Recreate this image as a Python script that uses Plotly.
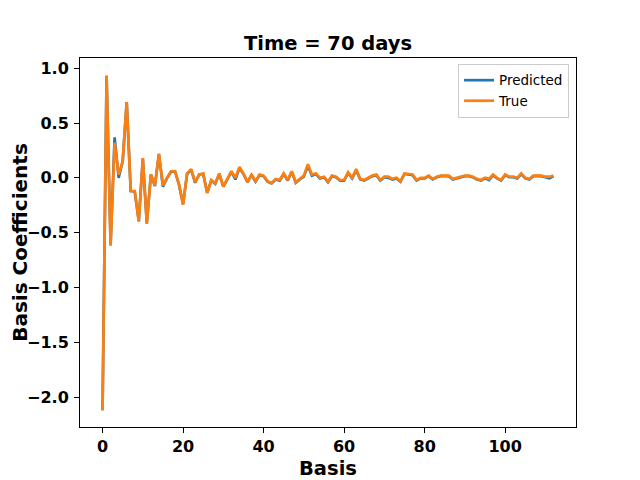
import plotly.graph_objects as go

# basis coefficients (time = 70 days)
true_vals = [-2.12, 0.93, -0.62, 0.32, 0.03, 0.15, 0.69, -0.12, -0.12, -0.40,
             0.18, -0.42, 0.03, -0.07, 0.22, -0.07, 0.0, 0.06, 0.06, -0.06,
             -0.245, 0.04, 0.08, -0.04, 0.03, 0.04, -0.14, -0.02, -0.05, 0.04,
             -0.08, -0.01, 0.06, 0.0, 0.10, 0.04, -0.04, 0.03, -0.03, 0.03,
             0.02, -0.03, -0.05, -0.01, -0.02, 0.04, -0.02, 0.06, -0.04, -0.01,
             0.02, 0.125, 0.03, 0.04, 0.0, 0.01, -0.035, 0.02, 0.01, -0.02,
             -0.02, 0.05, 0.0, 0.08, -0.01, -0.02, 0.0, 0.02, 0.03, -0.02,
             0.01, 0.01, -0.01, 0.0, -0.03, 0.04, 0.035, 0.03, -0.02, 0.0,
             0.0, 0.02, -0.01, 0.01, 0.02, 0.02, 0.02, -0.01, 0.0, 0.01,
             0.02, 0.02, 0.01, -0.01, -0.02, 0.0, -0.01, 0.03, 0.0, -0.02,
             0.03, 0.01, 0.01, 0.0, 0.04, 0.0, -0.01, 0.02, 0.02, 0.02,
             0.01, 0.01, 0.02]

pred_vals = [-2.12, 0.93, -0.61, 0.37, 0.0, 0.15, 0.69, -0.12, -0.125, -0.395,
             0.175, -0.415, 0.03, -0.075, 0.215, -0.08, -0.005, 0.055, 0.06, -0.065,
             -0.24, 0.035, 0.075, -0.045, 0.03, 0.035, -0.135, -0.025, -0.055, 0.035,
             -0.08, -0.015, 0.055, -0.015, 0.09, 0.035, -0.04, 0.025, -0.035, 0.025,
             0.015, -0.035, -0.05, -0.015, -0.025, 0.035, -0.025, 0.055, -0.045, -0.015,
             0.01, 0.11, 0.02, 0.035, -0.005, 0.005, -0.04, 0.015, 0.005, -0.025,
             -0.025, 0.045, -0.005, 0.07, -0.015, -0.025, -0.005, 0.015, 0.025, -0.025,
             0.005, 0.0, -0.015, -0.005, -0.035, 0.035, 0.03, 0.025, -0.025, -0.005,
             -0.005, 0.015, -0.015, 0.005, 0.015, 0.015, 0.015, -0.015, -0.005, 0.005,
             0.015, 0.015, 0.005, -0.015, -0.025, -0.005, -0.02, 0.025, -0.005, -0.025,
             0.025, 0.005, 0.005, -0.005, 0.035, -0.005, -0.015, 0.015, 0.015, 0.015,
             0.005, -0.005, 0.015]

basis = list(range(len(true_vals)))

fig = go.Figure()
fig.add_trace(go.Scatter(x=basis, y=pred_vals, mode="lines", name="Predicted",
                         line=dict(color="#1f77b4", width=2.7)))
fig.add_trace(go.Scatter(x=basis, y=true_vals, mode="lines", name="True",
                         line=dict(color="#ff7f0e", width=2.7)))

axis_common = dict(showline=True, linecolor="black", linewidth=1, mirror=True,
                   ticks="outside", ticklen=5, tickcolor="black", showgrid=False,
                   zeroline=False, automargin=False,
                   tickfont=dict(family="DejaVu Sans", size=16, color="black", weight="bold"))

# the page body adds an 8px offset, so margins are shifted to compensate
fig.update_layout(
    width=640, height=480,
    margin=dict(l=72, r=72, t=50, b=61),
    plot_bgcolor="white", paper_bgcolor="white",
    title=dict(text="<b>Time = 70 days</b>", x=0.5, xanchor="center",
               y=0.927, yanchor="middle",
               font=dict(family="DejaVu Sans", size=19.5, color="black")),
    xaxis=dict(range=[-5.6, 117.6], tickvals=[0, 20, 40, 60, 80, 100],
               **axis_common),
    yaxis=dict(range=[-2.273, 1.093], dtick=0.5, tickformat=".1f",
               ticklabelstandoff=2,
               title=dict(text="<b>Basis Coefficients</b>",
                          font=dict(family="DejaVu Sans", size=20, color="black")),
               **axis_common),
    legend=dict(x=0.986, y=0.984, xanchor="right", yanchor="top",
                bordercolor="#cccccc", borderwidth=1, bgcolor="white",
                tracegroupgap=0,
                font=dict(family="DejaVu Sans", size=13.5, color="black")),
    showlegend=True,
)

# x axis label placed by hand (axis title would be pushed off the page)
fig.add_annotation(text="<b>Basis</b>", xref="paper", yref="paper",
                   x=0.5, y=-0.112, xanchor="center", yanchor="middle",
                   showarrow=False,
                   font=dict(family="DejaVu Sans", size=19.5, color="black"))

fig.write_html("out.html")
